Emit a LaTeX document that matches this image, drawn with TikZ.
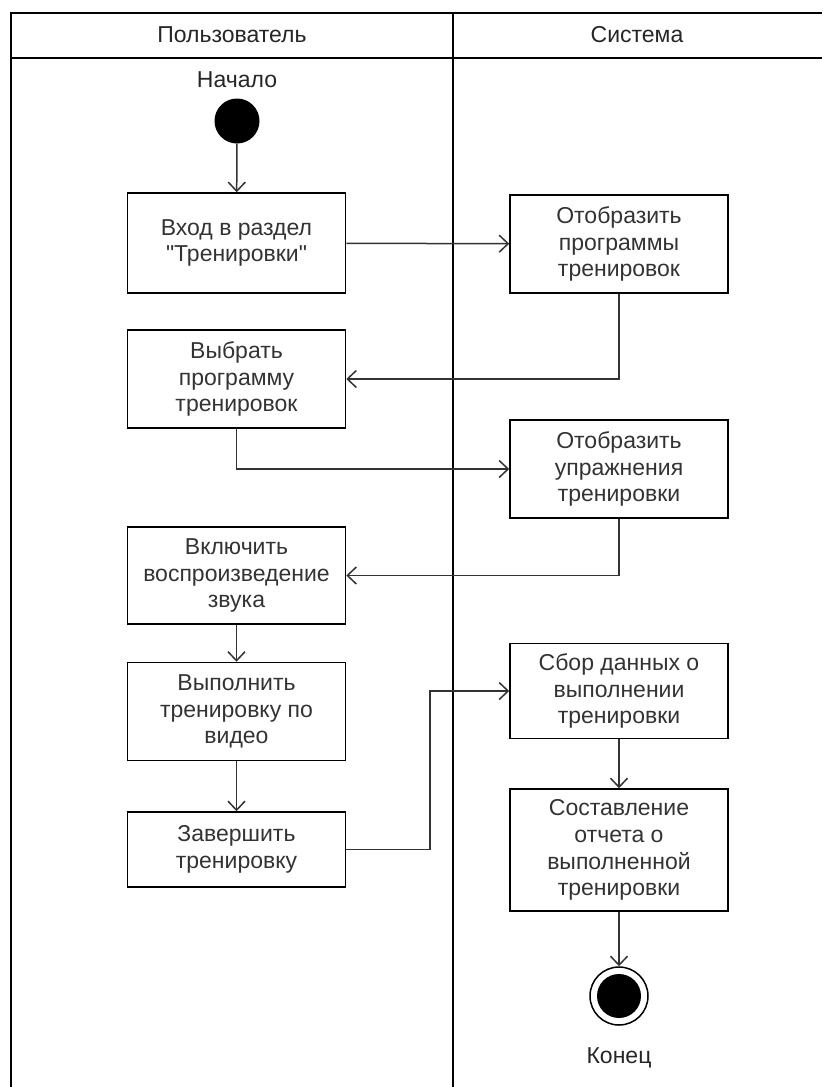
\documentclass[tikz,border=0pt]{standalone}
\usepackage{fontspec}
\setmainfont{Liberation Sans}
\usetikzlibrary{arrows.meta}
\begin{document}
\begin{tikzpicture}[x=1pt,y=-1pt,
  frame/.style={line width=2pt,draw=black},
  act/.style={draw=black,line width=1.5pt,minimum width=218pt,align=center,inner sep=0pt,font=\fontsize{23}{26.7}\selectfont,text=black!80},
  flow/.style={draw=black!80,line width=1.5pt,-{Straight Barb[length=9pt,width=17pt,line width=1.5pt]}},
  lbl/.style={font=\fontsize{23}{26.7}\selectfont,text=black!85}]
\useasboundingbox (0,0) rectangle (822,1087);
% swimlane frame
\draw[frame] (11,1087) -- (11,13) -- (822,13);
\draw[frame] (11,58) -- (822,58);
\draw[frame] (453,13) -- (453,1087);
\node[lbl] (h1) at (232,35) {Пользователь};
\node[lbl] (h2) at (637,35) {Система};
% start
\node[lbl] (startlbl) at (237,80) {Начало};
\node[circle,fill=black,minimum size=45pt,inner sep=0pt] (start) at (237,121) {};
% activities
\node[act,minimum height=100pt] (b1) at (236.5,243) {Вход в раздел\\\textquotedbl Тренировки\textquotedbl};
\node[act,minimum height=98pt] (b2) at (619,244) {Отобразить\\программы\\тренировок};
\node[act,minimum height=98pt] (b3) at (236.5,379) {Выбрать\\программу\\тренировок};
\node[act,minimum height=98pt] (b4) at (619,469) {Отобразить\\упражнения\\тренировки};
\node[act,minimum height=97pt] (b5) at (236.5,575.5) {Включить\\воспроизведение\\звука};
\node[act,minimum height=98pt] (b6) at (236.5,711.5) {Выполнить\\тренировку по\\видео};
\node[act,minimum height=75pt] (b7) at (236.5,849.5) {Завершить\\тренировку};
\node[act,minimum height=95pt] (b8) at (619,691) {Сбор данных о\\выполнении\\тренировки};
\node[act,minimum height=122pt] (b9) at (619,850) {Составление\\отчета о\\выполненной\\тренировки};
% end
\node[circle,draw=black,line width=1.5pt,minimum size=58pt,inner sep=0pt] (end) at (619,996) {};
\node[circle,fill=black,minimum size=44pt,inner sep=0pt] (endin) at (end.center) {};
\node[lbl] (endlbl) at (619,1058) {Конец};
% connectors
\draw[flow] (start) -- (b1);
\draw[flow] (b1) -- (b2);
\draw[flow] (b2.south) |- (b3.east);
\draw[flow] (b3.south) |- (b4.west);
\draw[flow] (b4.south) |- (b5.east);
\draw[flow] (b5) -- (b6);
\draw[flow] (b6) -- (b7);
\coordinate (k) at (430,849.5);
\draw[flow] (b7.east) -- (k) |- (b8.west);
\draw[flow] (b8) -- (b9);
\draw[flow] (b9) -- (end);
\end{tikzpicture}
\end{document}
